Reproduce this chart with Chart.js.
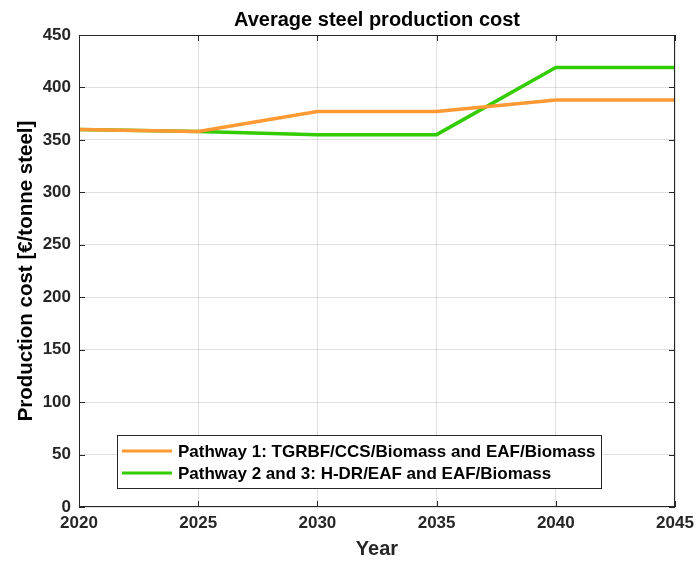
<!DOCTYPE html>
<html>
<head>
<meta charset="utf-8">
<script src="https://cdn.jsdelivr.net/npm/chart.js@4"></script>
<style>
  html, body { margin: 0; padding: 0; background: #fff; }
  #wrap { width: 697px; height: 561px; }
</style>
</head>
<body>
<div id="wrap"><canvas id="myChart"></canvas></div>
<script>
const years = [2020, 2025, 2030, 2035, 2040, 2045];
const pathway1 = [360, 358, 377, 377, 388, 388];
const pathway23 = [360, 358, 355, 355, 419, 419];
const seriesNames = [
  'Pathway 1: TGRBF/CCS/Biomass and EAF/Biomass',
  'Pathway 2 and 3: H-DR/EAF and EAF/Biomass'
];
const chartTitle = 'Average steel production cost';

const FONT = '"Liberation Sans", Arial, Helvetica, sans-serif';
const toPoints = vals => vals.map((v, i) => ({ x: years[i], y: v }));

// box round the axes, inward ticks, title over the axes and the legend inside the plot
const matlabBox = {
  id: 'matlabBox',
  afterDraw(chart) {
    const { ctx, chartArea: a, scales } = chart;
    ctx.save();
    ctx.strokeStyle = '#262626';
    ctx.lineWidth = 1;
    ctx.strokeRect(a.left + 0.5, a.top + 0.5, a.right - a.left - 1, a.bottom - a.top - 1);
    ctx.beginPath();
    scales.x.ticks.forEach(t => {
      const px = Math.round(scales.x.getPixelForValue(t.value)) + 0.5;
      ctx.moveTo(px, a.bottom); ctx.lineTo(px, a.bottom - 6);
      ctx.moveTo(px, a.top); ctx.lineTo(px, a.top + 6);
    });
    scales.y.ticks.forEach(t => {
      const py = Math.round(scales.y.getPixelForValue(t.value)) + 0.5;
      ctx.moveTo(a.left, py); ctx.lineTo(a.left + 6, py);
      ctx.moveTo(a.right, py); ctx.lineTo(a.right - 6, py);
    });
    ctx.stroke();

    // title
    ctx.fillStyle = '#000';
    ctx.font = 'bold 20px ' + FONT;
    ctx.textAlign = 'center';
    ctx.textBaseline = 'middle';
    ctx.fillText(chartTitle, (a.left + a.right) / 2, 20);

    // legend
    const lx = 117, ly = 435, lw = 484, lh = 53;
    ctx.fillStyle = '#fff';
    ctx.fillRect(lx, ly, lw, lh);
    ctx.strokeStyle = '#262626';
    ctx.strokeRect(lx + 0.5, ly + 0.5, lw, lh);
    ctx.font = 'bold 17px ' + FONT;
    ctx.textAlign = 'left';
    chart.data.datasets.forEach((ds, i) => {
      const cy = ly + 16 + i * 22;
      ctx.strokeStyle = ds.borderColor;
      ctx.lineWidth = 3;
      ctx.beginPath();
      ctx.moveTo(lx + 5, cy); ctx.lineTo(lx + 55, cy);
      ctx.stroke();
      ctx.fillStyle = '#000';
      ctx.fillText(ds.label, lx + 61, cy + 1);
    });
    ctx.restore();
  }
};

new Chart(document.getElementById('myChart'), {
  type: 'line',
  data: {
    datasets: [
      {
        label: seriesNames[0],
        data: toPoints(pathway1),
        borderColor: '#FF9933',
        borderWidth: 3.5,
        pointRadius: 0,
        tension: 0
      },
      {
        label: seriesNames[1],
        data: toPoints(pathway23),
        borderColor: '#33CC00',
        borderWidth: 3.5,
        pointRadius: 0,
        tension: 0
      }
    ]
  },
  options: {
    responsive: true,
    maintainAspectRatio: false,
    animation: false,
    layout: { padding: { left: 0, right: 22, top: 35, bottom: 0 } },
    scales: {
      x: {
        type: 'linear',
        min: 2020,
        max: 2045,
        afterFit: s => { s.height = 54; s.paddingLeft = 0; s.paddingRight = 0; },
        ticks: {
          stepSize: 5,
          padding: 6,
          color: '#262626',
          font: { family: FONT, size: 17, weight: 'bold' },
          callback: v => String(v)
        },
        grid: { color: 'rgba(0,0,0,0.12)', drawTicks: false },
        border: { display: false },
        title: {
          display: true,
          text: 'Year',
          color: '#262626',
          font: { family: FONT, size: 20, weight: 'bold' },
          padding: { top: 2, bottom: 0 }
        }
      },
      y: {
        min: 0,
        max: 450,
        afterFit: s => { s.width = 79; s.paddingTop = 0; s.paddingBottom = 0; },
        ticks: {
          stepSize: 50,
          padding: 8,
          color: '#262626',
          font: { family: FONT, size: 17, weight: 'bold' }
        },
        grid: { color: 'rgba(0,0,0,0.12)', drawTicks: false },
        border: { display: false },
        title: {
          display: true,
          text: 'Production cost [€/tonne steel]',
          color: '#000',
          font: { family: FONT, size: 20.5, weight: 'bold' },
          padding: { top: 14, bottom: 0 }
        }
      }
    },
    plugins: {
      legend: { display: false },
      tooltip: { enabled: false },
      title: { display: false }
    }
  },
  plugins: [matlabBox]
});
</script>
</body>
</html>
